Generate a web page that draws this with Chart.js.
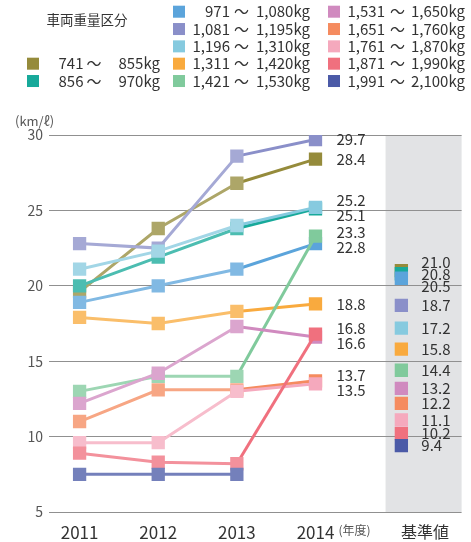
<!DOCTYPE html>
<html lang="ja">
<head>
<meta charset="utf-8">
<title>車両重量区分別 燃費の推移</title>
<script src="https://cdn.jsdelivr.net/npm/chart.js@4.4.1/dist/chart.umd.min.js"></script>
<style>
  html, body { margin: 0; padding: 0; background: #ffffff; }
  canvas { display: block; }
</style>
</head>
<body>
<canvas id="chart" width="471" height="542"></canvas>
<script>
// ---- data ----
const years = [2011, 2012, 2013, 2014];
const yTicks = [5, 10, 15, 20, 25, 30];

const classLow  = ['741', '856', '971', '1,081', '1,196', '1,311', '1,421', '1,531', '1,651', '1,761', '1,871', '1,991'];
const classHigh = ['855kg', '970kg', '1,080kg', '1,195kg', '1,310kg', '1,420kg', '1,530kg', '1,650kg', '1,760kg', '1,870kg', '1,990kg', '2,100kg'];
const classColors = ['#958B3B', '#17A99A', '#5BA4DB', '#8A8FC9', '#86CADF', '#F9AA3E',
                     '#80CA9C', '#D08ABF', '#F58B5F', '#F5A9BD', '#F0707E', '#4B5AA7'];

// fuel economy (km/ℓ) per weight class, 2011–2014
const series741  = [19.6, 23.8, 26.8, 28.4];
const series856  = [20.0, 21.9, 23.8, 25.1];
const series971  = [18.9, 20.0, 21.1, 22.8];
const series1081 = [22.8, 22.5, 28.6, 29.7];
const series1196 = [21.1, 22.3, 24.0, 25.2];
const series1311 = [17.9, 17.5, 18.3, 18.8];
const series1421 = [13.0, 14.0, 14.0, 23.3];
const series1531 = [12.2, 14.2, 17.3, 16.6];
const series1651 = [11.0, 13.1, 13.1, 13.7];
const series1761 = [9.6, 9.6, 13.0, 13.5];
const series1871 = [8.9, 8.3, 8.2, 16.8];
const series1991 = [7.5, 7.5, 7.5, null];

// standard values (基準値) per weight class
const standardValues = [21.0, 20.8, 20.5, 18.7, 17.2, 15.8, 14.4, 13.2, 12.2, 11.1, 10.2, 9.4];

const allSeries = [series741, series856, series971, series1081, series1196, series1311,
                   series1421, series1531, series1651, series1761, series1871, series1991];

// ---- layout constants (x axis in year units) ----
const X_MIN = 2010.611, X_MAX = 2015.858;
const STANDARD_X = 2015.092;        // column of standard-value squares
const STANDARD_LABEL_X = 2015.393;  // position of the 基準値 axis label
const BAND_START = 2014.891;        // shaded standard-value band
const FONT = '"Noto Sans CJK JP", "Noto Sans", sans-serif';

function lighten(hex, alpha) {
  const n = parseInt(hex.slice(1), 16);
  const r = (n >> 16) & 255, g = (n >> 8) & 255, b = n & 255;
  const m = v => Math.round(v * alpha + 255 * (1 - alpha));
  return `rgb(${m(r)},${m(g)},${m(b)})`;
}

const lastIdx = years.length - 1;
const lineDatasets = allSeries.map((vals, i) => {
  const full = classColors[i];
  const soft = lighten(full, 0.77);
  return {
    label: classLow[i] + '～' + classHigh[i],
    data: years.map((yr, k) => ({ x: yr, y: vals[k] })),
    order: 100 - i,
    borderColor: soft,
    borderWidth: 3,
    segment: { borderColor: c => (c.p1DataIndex === lastIdx ? full : soft) },
    pointStyle: 'rect',
    pointRadius: 9.4,
    pointBorderWidth: 0,
    pointBackgroundColor: years.map((_, k) => (k === lastIdx ? full : soft)),
    tension: 0,
    spanGaps: false
  };
});

const standardDataset = {
  label: '基準値',
  data: standardValues.map(v => ({ x: STANDARD_X, y: v })),
  order: 0,
  showLine: false,
  pointStyle: 'rect',
  pointRadius: 9.4,
  pointBorderWidth: 0,
  pointBackgroundColor: classColors
};

// spread labels vertically so that they keep a minimum gap
function spreadLabels(items, gap) {
  const sorted = items.slice().sort((a, b) => a.y - b.y);
  let clusters = sorted.map(it => ({ items: [it], top: it.y }));
  let merged = true;
  while (merged) {
    merged = false;
    for (let i = 0; i < clusters.length - 1; i++) {
      const a = clusters[i], b = clusters[i + 1];
      const aBottom = a.top + (a.items.length - 1) * gap;
      if (b.top - aBottom < gap) {
        const its = a.items.concat(b.items);
        const mean = its.reduce((s, it) => s + it.y, 0) / its.length;
        clusters.splice(i, 2, { items: its, top: mean - (its.length - 1) * gap / 2 });
        merged = true;
        break;
      }
    }
  }
  clusters.forEach(c => c.items.forEach((it, k) => { it.ly = c.top + k * gap; }));
  return sorted;
}

const decor = {
  id: 'decor',
  beforeDraw(chart) {
    const { ctx, chartArea: a, scales: { x } } = chart;
    const left = x.getPixelForValue(BAND_START);
    ctx.save();
    ctx.fillStyle = '#E2E3E5';
    ctx.fillRect(left, a.top, a.right - left, a.bottom - a.top);
    ctx.restore();
  },
  afterDraw(chart) {
    const { ctx, scales: { x, y } } = chart;
    ctx.save();
    ctx.textBaseline = 'middle';

    // legend title
    ctx.fillStyle = '#333';
    ctx.font = `13.5px ${FONT}`;
    ctx.textAlign = 'center';
    ctx.fillText('車両重量区分', 87, 20);

    // legend items
    const rowY = k => 11.7 + k * 17.33;
    const cols = [
      { sq: 27,  lowR: 83.5, tilde: 86.5, highR: 160, rows: [3, 4] },
      { sq: 173, lowR: 230,  tilde: 234,  highR: 310, rows: [0, 1, 2, 3, 4] },
      { sq: 328, lowR: 385,  tilde: 390,  highR: 465, rows: [0, 1, 2, 3, 4] }
    ];
    let idx = 0;
    ctx.font = `15px ${FONT}`;
    cols.forEach(col => {
      col.rows.forEach(r => {
        const cy = rowY(r);
        ctx.fillStyle = classColors[idx];
        ctx.fillRect(col.sq, cy - 6, 12, 12);
        ctx.fillStyle = '#333';
        ctx.textAlign = 'right';
        ctx.fillText(classLow[idx], col.lowR, cy);
        ctx.textAlign = 'left';
        ctx.fillText('～', col.tilde, cy);
        ctx.textAlign = 'right';
        ctx.fillText(classHigh[idx], col.highR, cy);
        idx++;
      });
    });

    // unit labels
    ctx.fillStyle = '#555';
    ctx.textAlign = 'left';
    ctx.font = `13px ${FONT}`;
    ctx.fillText('(km/ℓ)', 15, 121);
    ctx.font = `12px ${FONT}`;
    ctx.fillText('(年度)', x.getPixelForValue(2014) + 23, 530);

    // value labels for the last year
    ctx.fillStyle = '#333';
    ctx.font = `15px ${FONT}`;
    const lastItems = allSeries
      .map(vals => vals[lastIdx])
      .filter(v => v !== null)
      .map(v => ({ v, y: y.getPixelForValue(v) }));
    const lx = x.getPixelForValue(2014) + 21;
    spreadLabels(lastItems, 15).forEach(it => ctx.fillText(it.v.toFixed(1), lx, it.ly));

    // standard value labels
    const stdItems = standardValues.map(v => ({ v, y: y.getPixelForValue(v) }));
    const sx = x.getPixelForValue(STANDARD_X) + 20;
    spreadLabels(stdItems, 12).forEach(it => ctx.fillText(it.v.toFixed(1), sx, it.ly));

    ctx.restore();
  }
};

new Chart(document.getElementById('chart'), {
  type: 'line',
  data: { datasets: [...lineDatasets, standardDataset] },
  options: {
    responsive: false,
    animation: false,
    devicePixelRatio: 1,
    events: [],
    layout: { padding: { top: 135, right: 3, left: 0, bottom: 0 } },
    plugins: { legend: { display: false }, tooltip: { enabled: false } },
    scales: {
      x: {
        type: 'linear',
        min: X_MIN,
        max: X_MAX,
        grid: { display: false, drawTicks: false },
        border: { display: false },
        afterBuildTicks: s => { s.ticks = [...years, STANDARD_LABEL_X].map(v => ({ value: v })); },
        afterFit: s => { s.height = 30; s.paddingLeft = 0; s.paddingRight = 0; },
        ticks: {
          autoSkip: false,
          maxRotation: 0,
          padding: 10,
          color: '#333',
          font: c => ({ family: FONT, size: c.tick && c.tick.value === STANDARD_LABEL_X ? 16 : 17 }),
          callback: v => (v === STANDARD_LABEL_X ? '基準値' : String(v))
        }
      },
      y: {
        min: yTicks[0],
        max: yTicks[yTicks.length - 1],
        afterBuildTicks: s => { s.ticks = yTicks.map(v => ({ value: v })); },
        afterFit: s => { s.width = 49; },
        grid: { color: '#909090', lineWidth: 1, drawTicks: false },
        border: { display: false },
        ticks: { padding: 6, color: '#555', font: { family: FONT, size: 14 } }
      }
    }
  },
  plugins: [decor]
});
</script>
</body>
</html>
